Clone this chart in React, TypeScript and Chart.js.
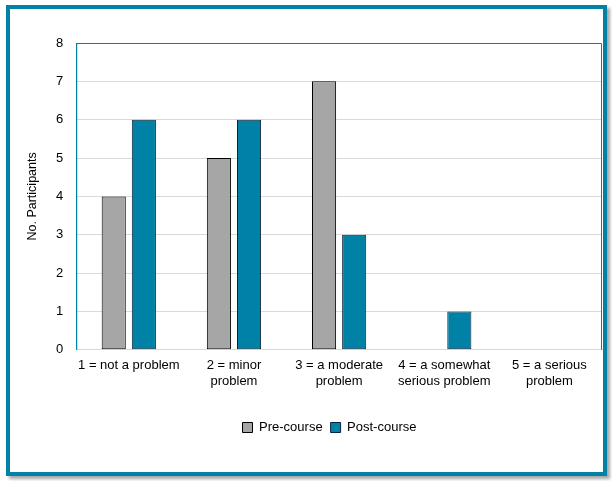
import React, { useEffect, useRef } from "react";
import { Chart, registerables } from "chart.js";

Chart.register(...registerables);

const categories: string[][] = [
  ["1 = not a problem"],
  ["2 = minor", "problem"],
  ["3 = a moderate", "problem"],
  ["4 = a somewhat", "serious problem"],
  ["5 = a serious", "problem"],
];
const preCourse = [4, 5, 7, 0, 0];
const postCourse = [6, 6, 3, 1, 0];
const yTicks = [0, 1, 2, 3, 4, 5, 6, 7, 8];

const TEAL = "#0081a6";
const GREY = "#a6a6a6";
const FONT = "'Liberation Sans', Arial, sans-serif";

const plotBorder = {
  id: "plotBorder",
  afterDraw(chart: any) {
    const { ctx, chartArea } = chart;
    ctx.save();
    ctx.strokeStyle = TEAL;
    ctx.lineWidth = 1;
    ctx.beginPath();
    ctx.moveTo(chartArea.left + 0.5, chartArea.bottom);
    ctx.lineTo(chartArea.left + 0.5, chartArea.top + 0.5);
    ctx.lineTo(chartArea.right - 0.5, chartArea.top + 0.5);
    ctx.lineTo(chartArea.right - 0.5, chartArea.bottom);
    ctx.stroke();
    ctx.restore();
  },
};

const legendShift = {
  id: "legendShift",
  afterLayout(chart: any) {
    const l = chart.legend;
    if (!l) return;
    l.left += 16;
    l.right += 16;
    if (typeof l.adjustHitBoxes === "function") l.adjustHitBoxes();
  },
};

export default function App() {
  const ref = useRef<HTMLCanvasElement | null>(null);
  useEffect(() => {
    if (!ref.current) return;
    const chart = new Chart(ref.current, {
      type: "bar",
      data: {
        labels: categories,
        datasets: [
          {
            label: "Pre-course",
            data: preCourse,
            backgroundColor: GREY,
            borderColor: "#000000",
            borderWidth: 1,
            borderSkipped: false,
          },
          {
            label: "Post-course",
            data: postCourse,
            backgroundColor: TEAL,
            borderColor: "#0a2538",
            borderWidth: 1,
            borderSkipped: false,
          },
        ],
      },
      options: {
        animation: false,
        responsive: true,
        maintainAspectRatio: false,
        datasets: {
          bar: { categoryPercentage: 0.573, barPercentage: 0.8 },
        },
        layout: { padding: { top: 34, right: 1, bottom: 28, left: 15 } },
        plugins: {
          tooltip: { enabled: false },
          legend: {
            position: "bottom",
            labels: {
              font: { family: FONT, size: 13 },
              color: "#000",
              boxWidth: 10,
              boxHeight: 10,
              padding: 8,
              useBorderRadius: false,
            },
          },
        },
        scales: {
          x: {
            grid: { display: false },
            border: { display: true, color: "#d9d9d9" },
            afterFit: (scale: any) => {
              scale.height += 24;
            },
            ticks: {
              font: { family: FONT, size: 13 },
              color: "#000",
              maxRotation: 0,
              autoSkip: false,
              padding: 0,
            },
          },
          y: {
            min: 0,
            max: 8,
            afterBuildTicks: (axis: any) => {
              axis.ticks = yTicks.map((v) => ({ value: v }));
            },
            grid: {
              color: (c: any) => (c.tick && c.tick.value === 8 ? "rgba(0,0,0,0)" : "#d9d9d9"),
              drawTicks: false,
            },
            border: { display: true, color: TEAL },
            ticks: {
              font: { family: FONT, size: 13 },
              color: "#000",
              padding: 13,
              stepSize: 1,
            },
            title: {
              display: true,
              text: "No. Participants",
              font: { family: FONT, size: 12.5 },
              color: "#000",
              padding: { top: 0, bottom: 3 },
            },
          },
        },
      },
      plugins: [plotBorder, legendShift],
    });
    return () => chart.destroy();
  }, []);

  return (
    <div
      style={{
        position: "absolute",
        left: 6,
        top: 5,
        width: 593,
        height: 463,
        border: `4px solid ${TEAL}`,
        boxShadow: "3px 3px 3px rgba(0,0,0,0.35)",
        background: "#fff",
      }}
    >
      <canvas ref={ref} />
    </div>
  );
}
